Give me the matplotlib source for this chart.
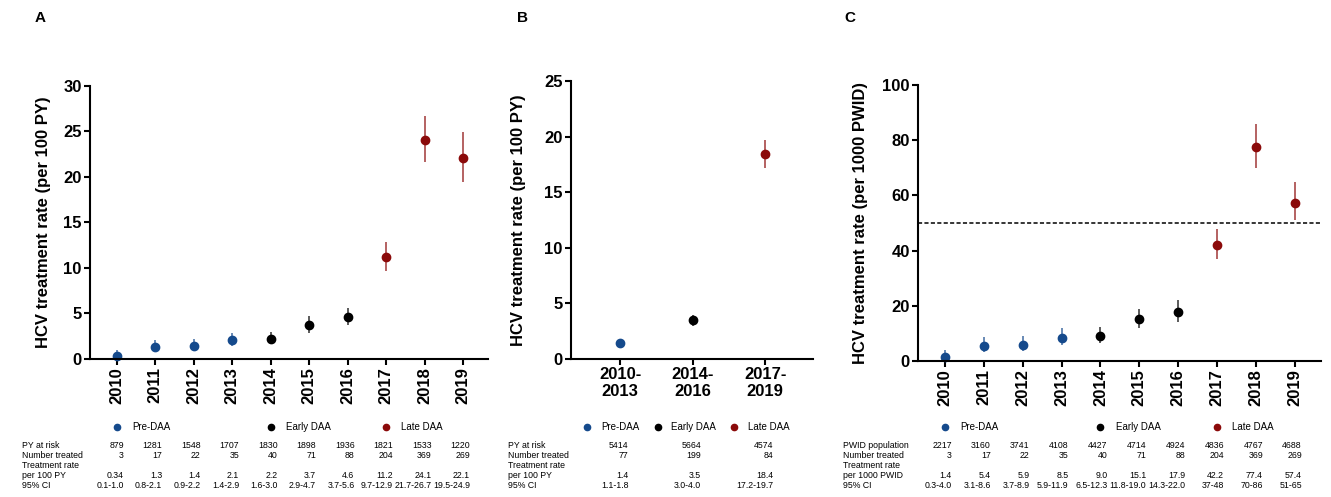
import numpy as np
import matplotlib.pyplot as plt
from matplotlib import transforms
from matplotlib.lines import Line2D

plt.rcParams['font.family'] = ['Liberation Sans', 'DejaVu Sans']

years = ['2010', '2011', '2012', '2013', '2014', '2015', '2016', '2017', '2018', '2019']
periods = ['2010-\n2013', '2014-\n2016', '2017-\n2019']
phase_names = ['Pre-DAA', 'Early DAA', 'Late DAA']
phase_colors = ['#154a8c', '#000000', '#8b0a0a']
year_phase = [0, 0, 0, 0, 1, 1, 1, 2, 2, 2]
period_phase = [0, 1, 2]

# panel A - per 100 person years, by year
a_py = [879, 1281, 1548, 1707, 1830, 1898, 1936, 1821, 1533, 1220]
a_treated = [3, 17, 22, 35, 40, 71, 88, 204, 369, 269]
a_rate = [0.34, 1.3, 1.4, 2.1, 2.2, 3.7, 4.6, 11.2, 24.1, 22.1]
a_lo = [0.1, 0.8, 0.9, 1.4, 1.6, 2.9, 3.7, 9.7, 21.7, 19.5]
a_hi = [1.0, 2.1, 2.2, 2.9, 3.0, 4.7, 5.6, 12.9, 26.7, 24.9]

# panel B - per 100 person years, by period
b_py = [5414, 5664, 4574]
b_treated = [77, 199, 84]
b_rate = [1.4, 3.5, 18.4]
b_lo = [1.1, 3.0, 17.2]
b_hi = [1.8, 4.0, 19.7]

# panel C - per 1000 PWID, by year
c_pop = [2217, 3160, 3741, 4108, 4427, 4714, 4924, 4836, 4767, 4688]
c_treated = [3, 17, 22, 35, 40, 71, 88, 204, 369, 269]
c_rate = [1.4, 5.4, 5.9, 8.5, 9.0, 15.1, 17.9, 42.2, 77.4, 57.4]
c_lo = [0.3, 3.1, 3.7, 5.9, 6.5, 11.8, 14.3, 37, 70, 51]
c_hi = [4.0, 8.6, 8.9, 11.9, 12.3, 19.0, 22.0, 48, 86, 65]
c_target = 50

fig = plt.figure(figsize=(13.31, 4.97), dpi=100)
axA = fig.add_axes([0.0676, 0.2777, 0.299, 0.5493])
axB = fig.add_axes([0.429, 0.2777, 0.1818, 0.5593])
axC = fig.add_axes([0.6897, 0.2736, 0.3028, 0.5554])

row_y = [1 - 445 / 497, 1 - 455 / 497, 1 - 465 / 497, 1 - 475 / 497, 1 - 485 / 497]
legend_y = 1 - 427 / 497


def draw_panel(ax, labels, rate, lo, hi, phases, ylim, yticks, ylabel, xlim, rot, label_x):
    x = np.arange(len(labels))
    rate = np.array(rate)
    lo = np.array(lo)
    hi = np.array(hi)
    phases = np.array(phases)
    for p in range(3):
        m = phases == p
        ax.errorbar(x[m], rate[m], yerr=[rate[m] - lo[m], hi[m] - rate[m]],
                    fmt='none', ecolor=phase_colors[p], elinewidth=1.2, alpha=0.75,
                    capsize=0, clip_on=False)
        ax.plot(x[m], rate[m], 'o', color=phase_colors[p], markersize=6, clip_on=False)
    ax.set_xlim(xlim)
    ax.set_ylim(ylim)
    ax.set_yticks(yticks)
    ax.set_xticks(x)
    ax.set_xticklabels(labels, rotation=rot, fontsize=12, fontweight='bold',
                       ha='center', va='top', linespacing=1.1)
    for t in ax.get_yticklabels():
        t.set_fontsize(12)
        t.set_fontweight('bold')
    ax.set_ylabel(ylabel, fontsize=12, fontweight='bold')
    ax.yaxis.set_label_coords(label_x, 0.5)
    ax.spines['top'].set_visible(False)
    ax.spines['right'].set_visible(False)
    ax.spines['left'].set_linewidth(1.5)
    ax.spines['bottom'].set_linewidth(1.5)
    ax.tick_params(width=1.5, length=4, pad=2)


def draw_table(ax, row_names, rows, name_x, offset=5):
    trans = transforms.blended_transform_factory(ax.transData, fig.transFigure)
    shifted = transforms.offset_copy(trans, fig=fig, x=offset, units='points')
    for i, name in enumerate(row_names):
        fig.text(name_x, row_y[i], name, fontsize=6.3, ha='left', va='center')
        if rows[i] is None:
            continue
        for j, v in enumerate(rows[i]):
            ax.text(j, row_y[i], v, fontsize=6.3, ha='right', va='center',
                    transform=shifted, clip_on=False)


def draw_legend_at_ticks(ax, positions):
    trans = transforms.blended_transform_factory(ax.transData, fig.transFigure)
    text_trans = transforms.offset_copy(trans, fig=fig, x=11, units='points')
    for p, pos in enumerate(positions):
        ax.plot([pos], [legend_y], 'o', color=phase_colors[p], markersize=4.5,
                transform=trans, clip_on=False)
        ax.text(pos, legend_y, phase_names[p], fontsize=7, ha='left', va='center',
                transform=text_trans)


draw_panel(axA, years, a_rate, a_lo, a_hi, year_phase, (0, 30), [0, 5, 10, 15, 20, 25, 30],
           'HCV treatment rate (per 100 PY)', (-0.7, 9.65), 90, -0.098)
draw_panel(axB, periods, b_rate, b_lo, b_hi, period_phase, (0, 25), [0, 5, 10, 15, 20, 25],
           'HCV treatment rate (per 100 PY)', (-0.68, 2.66), 0, -0.186)
draw_panel(axC, years, c_rate, c_lo, c_hi, year_phase, (0, 100), [0, 20, 40, 60, 80, 100],
           'HCV treatment rate (per 1000 PWID)', (-0.69, 9.67), 90, -0.124)
axC.axhline(c_target, color='black', linestyle='--', linewidth=1.1, dashes=(2.7, 1.5))

# tables under each panel
fmt_ci = lambda lo, hi: [f'{l}-{h}' for l, h in zip(lo, hi)]
draw_table(axA, ['PY at risk', 'Number treated', 'Treatment rate', 'per 100 PY', '95% CI'],
           [[str(v) for v in a_py], [str(v) for v in a_treated], None,
            [str(v) for v in a_rate], fmt_ci(a_lo, a_hi)], 22 / 1331)
draw_table(axB, ['PY at risk', 'Number treated', 'Treatment rate', 'per 100 PY', '95% CI'],
           [[str(v) for v in b_py], [str(v) for v in b_treated], None,
            [str(v) for v in b_rate], fmt_ci(b_lo, b_hi)], 508 / 1331, offset=6)
draw_table(axC, ['PWID population', 'Number treated', 'Treatment rate', 'per 1000 PWID', '95% CI'],
           [[str(v) for v in c_pop], [str(v) for v in c_treated], None,
            [str(v) for v in c_rate], fmt_ci(c_lo, c_hi)], 843 / 1331)

draw_legend_at_ticks(axA, [0, 4, 7])
draw_legend_at_ticks(axC, [0, 4, 7])
handles = [Line2D([], [], marker='o', linestyle='none', color=c, markersize=4.5)
           for c in phase_colors]
fig.legend(handles, phase_names, loc='center', bbox_to_anchor=(686 / 1331, legend_y),
           ncol=3, frameon=False, fontsize=7, handlelength=1.0, handletextpad=0.9,
           columnspacing=1.4, borderpad=0, borderaxespad=0)

for letter, x in zip(['A', 'B', 'C'], [40, 522, 850]):
    fig.text(x / 1331, 1 - 18 / 497, letter, fontsize=11, fontweight='bold',
             ha='center', va='center')

plt.savefig('out.png', dpi=100)
